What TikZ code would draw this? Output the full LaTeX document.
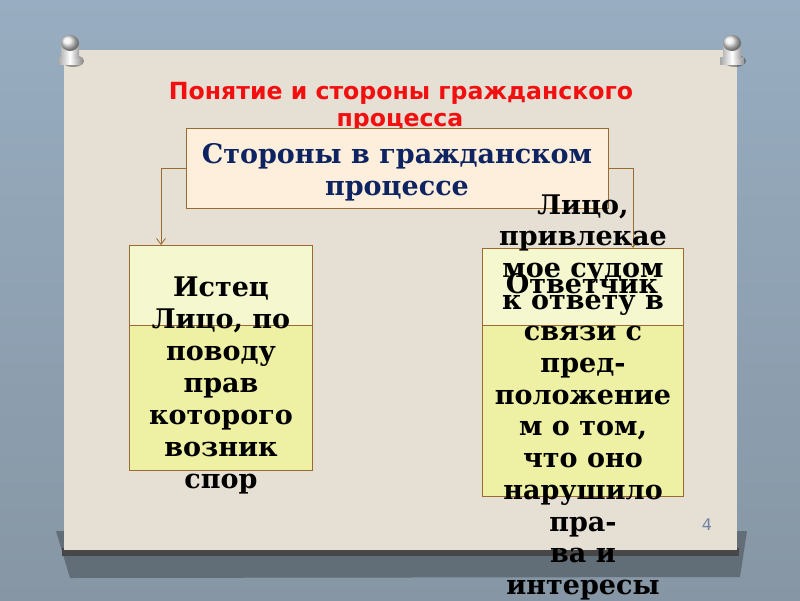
\documentclass[tikz,border=0pt]{standalone}
\usepackage{fontspec}
\setmainfont{DejaVu Serif}
\setsansfont{DejaVu Sans}
\usetikzlibrary{arrows.meta,positioning}

\definecolor{walltop}{HTML}{98ADC1}
\definecolor{wallbot}{HTML}{8696A4}
\definecolor{paper}{HTML}{E6DFD4}
\definecolor{boxline}{HTML}{9A6A30}
\definecolor{headfill}{HTML}{FEEFDC}
\definecolor{paletop}{HTML}{F5F8CF}
\definecolor{limebot}{HTML}{EEF1A3}
\definecolor{navy}{HTML}{0E2462}
\definecolor{titlered}{HTML}{F20F0F}
\definecolor{pagenum}{HTML}{7282A6}

\begin{document}
\begin{tikzpicture}[x=1pt, y=-1pt,
    box/.style={draw=boxline, line width=0.9pt, inner sep=0pt, outer sep=0pt},
    link/.style={draw=boxline, line width=0.8pt, -{Straight Barb[length=6pt,width=9pt]}},
    word/.style={font=\bfseries\fontsize{27}{32}\selectfont, anchor=base, inner sep=0pt},
    headline/.style={font=\sffamily\bfseries\fontsize{23.6}{27}\selectfont, text=titlered, anchor=base, inner sep=0pt}]

    \useasboundingbox (0,0) rectangle (800,600);
    \clip (0,0) rectangle (800,600);

    % wall and paper sheet
    \shade[top color=walltop, bottom color=wallbot] (0,0) rectangle (800,600);
    \fill[black!50!wallbot, opacity=.55] (56,531) -- (747,531) -- (740,577) -- (70,578) -- cycle;
    \fill[black!72] (62,548) rectangle (739,556);
    \fill[paper] (64,50) rectangle (737,550);

    % pins
    \foreach \cx in {70,732} {
        \fill[black, opacity=.35] (\cx+3,61) ellipse [x radius=11, y radius=6];
        \shade[left color=gray!70, right color=gray!85, middle color=white] (\cx-12,57) rectangle (\cx+12,64);
        \shade[left color=gray!55, right color=gray!75, middle color=white] (\cx-9,44) rectangle (\cx+9,58);
        \shade[ball color=white!85!gray] (\cx,43) ellipse [x radius=9, y radius=8];
    }

    % title
    \node[headline] (title1) at (401,99) {Понятие и стороны гражданского};
    \node[headline] (title2) at (400,126) {процесса};

    % boxes
    \node[box, fill=headfill, minimum width=422pt, minimum height=80pt] (sides) at (397,168) {};
    \node[box, fill=paletop, minimum width=183pt, minimum height=80pt] (plaintop) at (220.5,285) {};
    \node[box, fill=limebot, minimum width=183pt, minimum height=145pt] (plainbot) at (220.5,397.5) {};
    \node[box, fill=paletop, minimum width=201pt, minimum height=77pt] (deftop) at (582.5,286.5) {};
    \node[box, fill=limebot, minimum width=201pt, minimum height=171pt] (defbot) at (582.5,410.5) {};

    % connectors
    \draw[link] (sides.west) -| ([xshift=32pt]plaintop.north west);
    \draw[link] (sides.east) -| ([xshift=-50pt]deftop.north east);

    % texts
    \node[word, text=navy] (head1) at (397,163) {Стороны в гражданском};
    \node[word, text=navy] (head2) at (397,195) {процессе};

    \foreach \t [count=\k from 0] in {Истец, {Лицо, по}, поводу, прав, которого, возник, спор}
        \node[word] (pl\k) at (221,296+32*\k) {\t};

    \node[word] (defname) at (582,293) {Ответчик};
    \foreach \t [count=\k from 0] in {{Лицо,}, привлекае, {мое судом}, {к ответу в}, {связи с},
        пред-, положение, {м о том,}, {что оно}, нарушило, пра-, {ва и}, интересы}
        \node[word] (df\k) at (583,214+31.7*\k) {\t};

    \node[font=\sffamily\fontsize{16}{18}\selectfont, text=pagenum, anchor=base, inner sep=0pt] (page) at (707,530) {4};

\end{tikzpicture}
\end{document}
